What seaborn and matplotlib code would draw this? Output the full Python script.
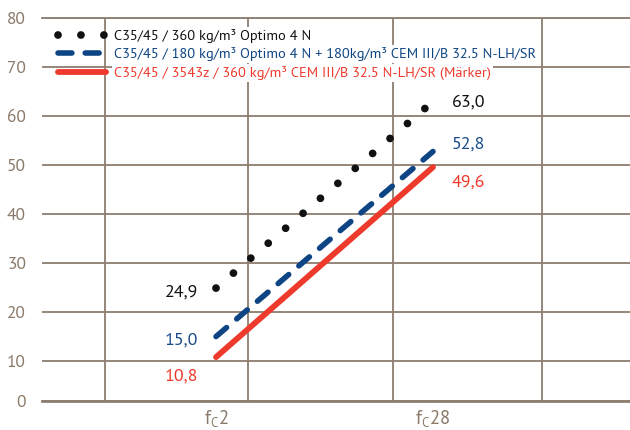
import pandas as pd
import numpy as np
import matplotlib.pyplot as plt
import seaborn as sns

# categories on the x axis
ages = ['f$_\\mathregular{C}$2', 'f$_\\mathregular{C}$28']
age_pos = [0, 1]

# strength values per mix
optimo = [24.9, 63.0]
mixed = [15.0, 52.8]
maerker = [10.8, 49.6]
value_labels = [['24,9', '63,0'], ['15,0', '52,8'], ['10,8', '49,6']]

series_names = ['C35/45 / 360 kg/m³ Optimo 4 N',
                'C35/45 / 180 kg/m³ Optimo 4 N + 180kg/m³ CEM III/B 32.5 N-LH/SR',
                'C35/45 / 3543z / 360 kg/m³ CEM III/B 32.5 N-LH/SR (Märker)']

y_labels = ['0', '10', '20', '30', '40', '50', '60', '70', '80']

grid_col = '#8c7e70'
tick_col = '#8a7a69'
colors = ['#111111', '#0d4584', '#ee3a2c']
text_colors = ['#111111', '#1a4c8c', '#ee3a2c']

sns.set_style('white')
plt.rcParams['font.family'] = ['PT Sans', 'Lato', 'DejaVu Sans']
plt.rcParams['mathtext.fontset'] = 'custom'
plt.rcParams['mathtext.rm'] = 'PT Sans'

fig = plt.figure(figsize=(6.3, 4.3), dpi=100)
ax = fig.add_axes([42 / 630, 1 - 400.7 / 430, 1 - 42 / 630, (400.7 - 18.3) / 430])

df = pd.DataFrame({'x': age_pos * 3,
                   'value': optimo + mixed + maerker,
                   'series': [n for n in series_names for _ in age_pos]})

styles = [dict(linewidth=5.6, dashes=(0.001, 2.95), dash_capstyle='round'),
          dict(linewidth=4.0, dashes=(2.5, 2.4), dash_capstyle='round'),
          dict(linewidth=4.2, solid_capstyle='round')]

for name, col, st in zip(series_names, colors, styles):
    sns.lineplot(data=df[df['series'] == name], x='x', y='value', color=col,
                 label=name, ax=ax, **st)

# value labels next to the line ends
left_off = [-3, -3, -14]
right_off = [-1, 4.7, -11]
for i, vals in enumerate([optimo, mixed, maerker]):
    ax.annotate(value_labels[i][0], (age_pos[0], vals[0]), xytext=(-13, left_off[i]),
                textcoords='offset points', ha='right', va='center',
                fontsize=13, color=text_colors[i])
    ax.annotate(value_labels[i][1], (age_pos[1], vals[1]), xytext=(13.5, right_off[i]),
                textcoords='offset points', ha='left', va='center',
                fontsize=13, color=text_colors[i])

# axis scales
y_base = 1.9  # baseline drawn a bit above the linear zero in the original
ax.set_ylim(y_base, 80)
ax.set_yticks([y_base] + list(range(10, 81, 10)))
ax.set_yticklabels(y_labels)
ax.set_xlim(-0.802, 1.908)
ax.set_xticks(age_pos)
ax.set_xticklabels(ages)
ax.set_xticks([-0.511, 0.146, 0.814, 1.501], minor=True)
ax.set_xlabel('')
ax.set_ylabel('')

ax.grid(axis='y', which='major', color=grid_col, linewidth=1.3)
ax.grid(axis='x', which='minor', color=grid_col, linewidth=1.3)
ax.set_axisbelow(True)
ax.tick_params(axis='both', which='both', length=0, colors=tick_col, labelsize=12.5)
ax.tick_params(axis='y', pad=11.5)
ax.tick_params(axis='x', pad=6)
for t in ax.get_xticklabels():
    t.set_fontsize(13.5)

for s in ['left', 'right']:
    ax.spines[s].set_visible(False)
ax.spines['top'].set_color(grid_col)
ax.spines['top'].set_linewidth(1.3)
ax.spines['bottom'].set_color(grid_col)
ax.spines['bottom'].set_linewidth(2.0)

leg = ax.legend(loc='upper left', bbox_to_anchor=(58 / 630, 1 - 29 / 430),
                bbox_transform=fig.transFigure, frameon=False,
                handlelength=3.3, handletextpad=0.6, labelspacing=0.3,
                borderpad=0, borderaxespad=0, labelcolor='linecolor', fontsize=10.4)
# the legend texts sit on white so the grid does not run through them
for t in leg.get_texts():
    t.set_bbox(dict(facecolor='white', edgecolor='none', pad=1.5))

fig.savefig('out.png', dpi=100)
